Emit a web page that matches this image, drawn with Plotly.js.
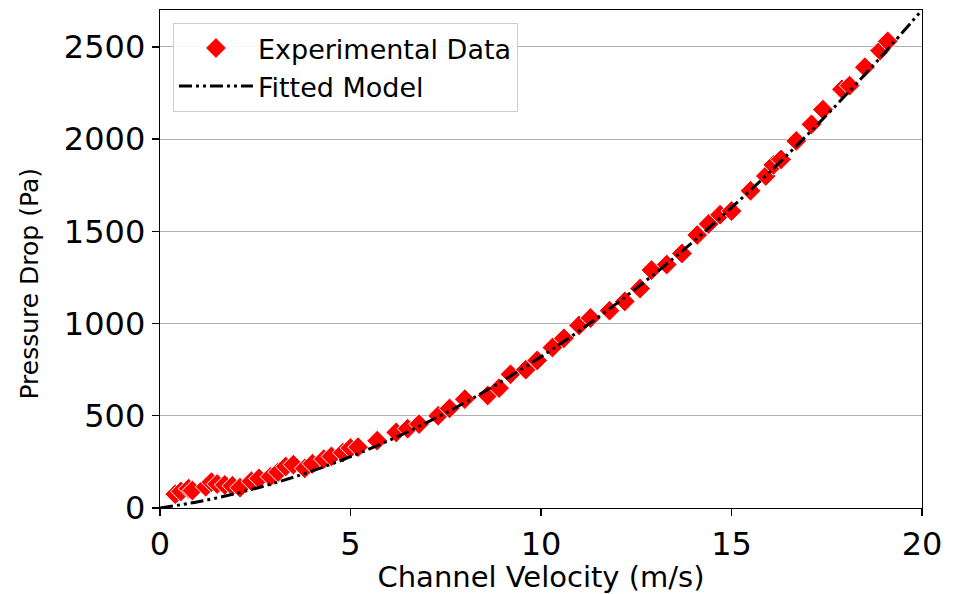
<!DOCTYPE html>
<html>
<head>
<meta charset="utf-8">
<script src="https://cdn.plot.ly/plotly-3.0.1.min.js"></script>
<style>
  html, body { margin: 0; padding: 0; background: #fff; }
  #chart { width: 963px; height: 594px; }
</style>
</head>
<body>
<div id="chart"></div>
<script>
// Measured channel velocity (m/s) and pressure drop (Pa)
const expVelocity = [
  0.4, 0.55, 0.75, 0.85, 1.2, 1.35, 1.5, 1.7, 1.9, 2.1,
  2.4, 2.6, 2.9, 3.1, 3.3, 3.5, 3.8, 4.0, 4.3, 4.5,
  4.8, 5.0, 5.2, 5.7, 6.2, 6.5, 6.8, 7.3, 7.6, 8.0,
  8.6, 8.9, 9.2, 9.6, 9.9, 10.3, 10.6, 11.0, 11.3, 11.8,
  12.2, 12.6, 12.9, 13.3, 13.7, 14.1, 14.4, 14.7, 15.0, 15.5,
  15.9, 16.1, 16.3, 16.7, 17.1, 17.4, 17.9, 18.1, 18.5, 18.9, 19.1
];
const expPressure = [
  75, 90, 105, 95, 115, 140, 130, 125, 120, 110,
  145, 160, 170, 195, 225, 235, 215, 240, 265, 280,
  300, 325, 330, 365, 410, 430, 455, 500, 540, 590,
  610, 650, 725, 750, 800, 870, 920, 990, 1030, 1070,
  1120, 1190, 1290, 1320, 1380, 1480, 1540, 1590, 1610, 1720,
  1800, 1860, 1890, 1990, 2080, 2160, 2270, 2290, 2390, 2480, 2530
];

// Fitted model curve sampled at whole-number velocities
const fitVelocity = [0, 1, 2, 3, 4, 5, 6, 7, 8, 9, 10, 11, 12, 13, 14, 15, 16, 17, 18, 19, 20];
const fitPressure = [0, 34, 79, 135, 201, 278, 365, 463, 571, 690, 820, 960, 1111, 1273, 1445, 1628, 1821, 2025, 2239, 2464, 2700];

const xTicks = [0, 5, 10, 15, 20];
const yTicks = [0, 500, 1000, 1500, 2000, 2500];

const xLabel = 'Channel Velocity (m/s)';
const yLabel = 'Pressure Drop (Pa)';

const font = 'DejaVu Sans, Verdana, sans-serif';

const traces = [
  {
    x: expVelocity, y: expPressure,
    type: 'scatter', mode: 'markers',
    name: 'Experimental Data',
    marker: { symbol: 'diamond', color: '#ff0000', size: 16,
              line: { color: '#ffffff', width: 1 } }
  },
  {
    x: fitVelocity, y: fitPressure,
    type: 'scatter', mode: 'lines',
    name: 'Fitted Model',
    line: { color: '#000000', width: 3, shape: 'spline',
            dash: '13px,4px,3px,4px,3px,4px' }
  }
];

const layout = {
  width: 963, height: 594,
  margin: { l: 160, r: 41, t: 10, b: 86 },
  paper_bgcolor: '#ffffff', plot_bgcolor: '#ffffff',
  font: { family: font, color: '#000000' },
  showlegend: true,
  legend: {
    x: 0.017, y: 0.974, xanchor: 'left', yanchor: 'top',
    bgcolor: 'rgba(255,255,255,0.9)', bordercolor: '#cccccc', borderwidth: 1,
    font: { family: font, size: 27, color: '#000000' },
    itemwidth: 74
  },
  xaxis: {
    range: [0, 20], tickvals: xTicks, ticktext: xTicks.map(String),
    showgrid: false, zeroline: false, automargin: false,
    showline: true, linecolor: '#000000', linewidth: 1.3, mirror: true,
    ticks: 'outside', ticklen: 7, tickwidth: 1.3, tickcolor: '#000000',
    tickfont: { family: font, size: 32, color: '#000000' },
    title: { text: xLabel, font: { family: font, size: 29, color: '#000000' } }
  },
  yaxis: {
    range: [0, 2700], tickvals: yTicks, ticktext: yTicks.map(String),
    showgrid: true, gridcolor: '#b0b0b0', gridwidth: 1,
    zeroline: false, automargin: false,
    showline: true, linecolor: '#000000', linewidth: 1.3, mirror: true,
    ticks: 'outside', ticklen: 7, tickwidth: 1.3, tickcolor: '#000000',
    tickfont: { family: font, size: 32, color: '#000000' }
  },
  // vertical axis label placed beside the tick labels
  annotations: [{
    text: yLabel, textangle: -90, showarrow: false,
    xref: 'paper', yref: 'paper', x: -0.171, y: 0.45,
    xanchor: 'center', yanchor: 'middle',
    font: { family: font, size: 25, color: '#000000' }
  }]
};

Plotly.newPlot('chart', traces, layout, { displayModeBar: false, staticPlot: true });
</script>
</body>
</html>
